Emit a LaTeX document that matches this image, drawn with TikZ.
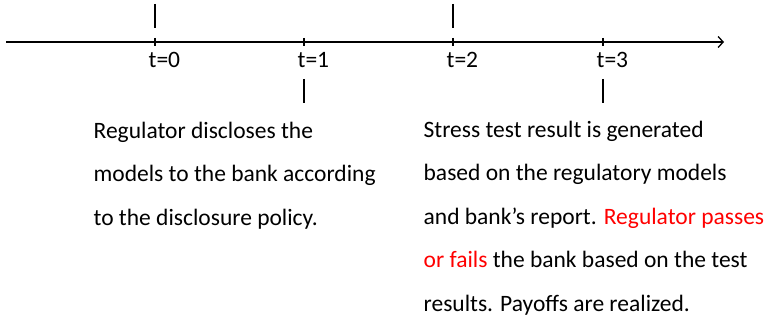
\documentclass[tikz,border=0pt]{standalone}
\usepackage{fontspec}
\setmainfont{Carlito}
\usetikzlibrary{arrows.meta,positioning}

\tikzset{
  period/.style={anchor=base west,inner sep=0pt,font=\fontsize{23.5}{28}\selectfont},
  event/.style={anchor=base west,inner sep=0pt,align=left,font=\fontsize{23.5}{43.6}\selectfont},
}

\begin{document}
\begin{tikzpicture}[x=1pt,y=-1pt,>={Straight Barb[length=5pt,width=11pt]},line width=1.3pt]
  \useasboundingbox (0,0) rectangle (767,320);
  % time line
  \coordinate (start) at (6,42);
  \coordinate (end) at (724,42);
  \draw[->] (start) -- (end);
  \foreach \t/\xx in {0/155,1/304,2/453,3/603} {
    \coordinate (t\t) at (\xx,42);
    \draw (t\t) ++(0,-4) -- ++(0,8);
    \node[period] (lab\t) at (\xx-7,68) {t=\t};
  }
  % markers
  \draw (t0) ++(0,-38) -- ++(0,24);
  \draw (t2) ++(0,-38) -- ++(0,24);
  \draw (t1) ++(0,37) -- ++(0,24);
  \draw (t3) ++(0,37) -- ++(0,24);
  % what happens (base = last line)
  \node[event] (disclose) at (93,225.2) {Regulator discloses the\\
    models to the bank according\\
    to the disclosure policy.};
  \node[event] (result) at (423,311.4) {Stress test result is generated\\
    based on the regulatory models\\
    and bank’s report. \textcolor{red}{Regulator passes}\\
    \textcolor{red}{or fails} the bank based on the test\\
    results. Payoffs are realized.};
\end{tikzpicture}
\end{document}
